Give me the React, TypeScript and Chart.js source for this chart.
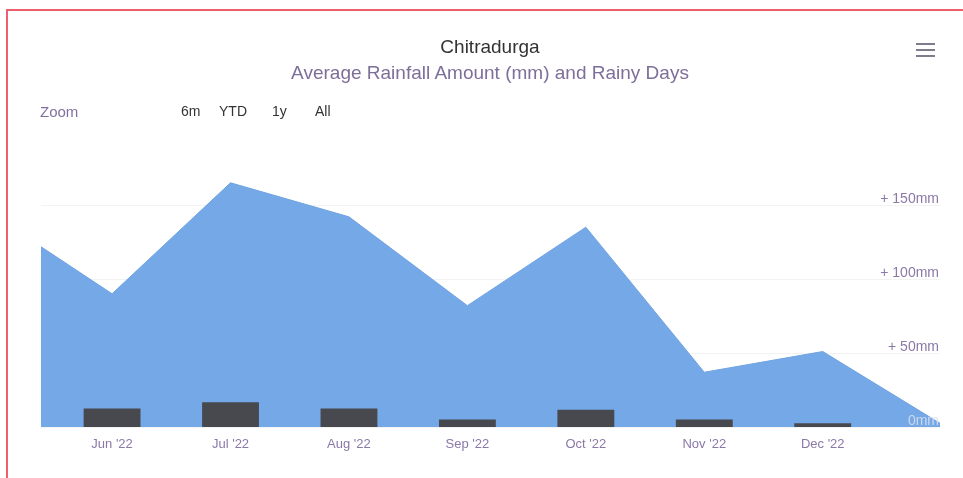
import { useEffect, useRef } from 'react';
import { Chart, registerables } from 'chart.js';

Chart.register(...registerables);

// Month categories (May '22 and Jan '23 sit partly outside the visible window)
const months = ["May '22", "Jun '22", "Jul '22", "Aug '22", "Sep '22", "Oct '22", "Nov '22", "Dec '22", "Jan '23"];
// Average rainfall amount (mm)
const rainfallMm = [143, 90, 165, 142, 82, 135, 37, 51, 2];
// Rainy days (bars), Jun '22 .. Dec '22
const barMonths = ["Jun '22", "Jul '22", "Aug '22", "Sep '22", "Oct '22", "Nov '22", "Dec '22"];
const rainyDays = [7.5, 10, 7.5, 3, 7, 3, 1.5];
// Right axis ticks (mm)
const mmTicks = [0, 50, 100, 150, 200];

const LABEL_COLOR = '#8a78a8';

export default function App() {
  const ref = useRef<HTMLCanvasElement>(null);

  useEffect(() => {
    const canvas = ref.current;
    if (!canvas) return;
    Chart.defaults.font.family = "'Liberation Sans', Arial, sans-serif";

    const areaData = months.map((m, i) => ({ x: i - 1, y: rainfallMm[i] }));
    const barData = barMonths.map((m, j) => ({ x: months.indexOf(m) - 1, y: rainyDays[j] }));

    const chart = new Chart(canvas, {
      data: {
        datasets: [
          {
            type: 'bar',
            label: 'Rainy Days',
            data: barData,
            xAxisID: 'x',
            yAxisID: 'days',
            backgroundColor: '#48484f',
            barPercentage: 0.48,
            categoryPercentage: 1,
            order: 0,
          },
          {
            type: 'line',
            label: 'Average Rainfall (mm)',
            data: areaData,
            xAxisID: 'x',
            yAxisID: 'mm',
            backgroundColor: '#74a8e6',
            borderColor: '#6fa3e3',
            borderWidth: 1,
            fill: 'origin',
            pointRadius: 0,
            tension: 0,
            order: 1,
          },
        ],
      } as any,
      options: {
        responsive: false,
        animation: false,
        layout: { padding: { left: 41, right: 23, top: 131, bottom: 0 } },
        plugins: { legend: { display: false }, tooltip: { enabled: false }, title: { display: false } },
        scales: {
          x: {
            type: 'linear',
            position: 'bottom',
            min: -0.6,
            max: 6.99,
            offset: false,
            grid: { display: false, drawTicks: false, offset: false },
            border: { display: false },
            afterBuildTicks: (s: any) => {
              s.ticks = barMonths.map((_, i) => ({ value: i }));
            },
            afterFit: (s: any) => {
              s.height = 51;
            },
            ticks: {
              padding: 10,
              color: LABEL_COLOR,
              font: { size: 13 },
              maxRotation: 0,
              autoSkip: false,
              callback: (v: any) => months[Number(v) + 1],
            },
          },
          mm: {
            type: 'linear',
            position: 'right',
            min: 0,
            max: 200,
            afterBuildTicks: (s: any) => {
              s.ticks = mmTicks.map((v) => ({ value: v }));
            },
            afterFit: (s: any) => {
              s.width = 0;
            },
            grid: {
              drawTicks: false,
              color: (c: any) => (c.tick && c.tick.value === 200 ? 'rgba(0,0,0,0)' : '#f3f3f3'),
            },
            border: { display: false },
            ticks: {
              mirror: true,
              padding: -1,
              labelOffset: -6,
              z: 1,
              color: (c: any) => (c.tick && c.tick.value === 0 ? 'rgba(215,222,240,0.9)' : LABEL_COLOR),
              font: { size: 14 },
              callback: (v: any) => (Number(v) === 200 ? '' : Number(v) === 0 ? '0mm' : `+ ${v}mm`),
            },
          },
          days: { type: 'linear', display: false, min: 0, max: 120 },
        },
      } as any,
    });
    return () => chart.destroy();
  }, []);

  const abs = (style: any) => ({ position: 'absolute' as const, ...style });

  return (
    <div style={{ position: 'fixed', left: 0, top: 0, width: 963, height: 478, overflow: 'hidden', background: '#fff', fontFamily: "'Liberation Sans', Arial, sans-serif" }}>
      <div style={abs({ left: 6, top: 9, width: 1100, height: 600, borderLeft: '2px solid #ee5f6e', borderTop: '2px solid #ee5f6e' })} />
      <canvas ref={ref} width={963} height={478} style={abs({ left: 0, top: 0, width: 963, height: 478 })} />
      <div style={abs({ left: 0, top: 37, width: 980, textAlign: 'center', fontSize: 19, lineHeight: '20px', color: '#333333' })}>Chitradurga</div>
      <div style={abs({ left: 0, top: 63, width: 980, textAlign: 'center', fontSize: 19, lineHeight: '20px', color: '#7d6e9a' })}>Average Rainfall Amount (mm) and Rainy Days</div>
      <div style={abs({ left: 40, top: 104, fontSize: 15, lineHeight: '16px', color: '#8070a0' })}>Zoom</div>
      <div style={abs({ left: 181, top: 103, fontSize: 14, lineHeight: '16px', color: '#333333' })}>6m</div>
      <div style={abs({ left: 219, top: 103, fontSize: 14, lineHeight: '16px', color: '#333333' })}>YTD</div>
      <div style={abs({ left: 272, top: 103, fontSize: 14, lineHeight: '16px', color: '#333333' })}>1y</div>
      <div style={abs({ left: 315, top: 103, fontSize: 14, lineHeight: '16px', color: '#333333' })}>All</div>
      <div style={abs({ left: 916, top: 43, width: 19, height: 2, background: '#7d7d8c' })} />
      <div style={abs({ left: 916, top: 49, width: 19, height: 2, background: '#7d7d8c' })} />
      <div style={abs({ left: 916, top: 55, width: 19, height: 2, background: '#7d7d8c' })} />
    </div>
  );
}
